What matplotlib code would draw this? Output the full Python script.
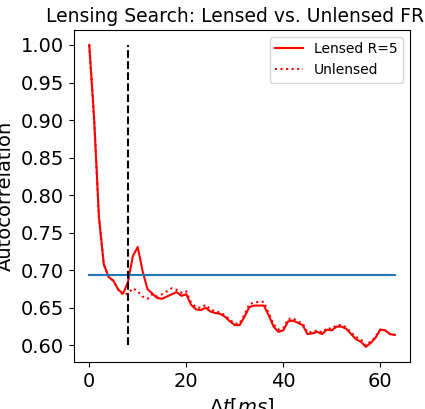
import numpy as np
import matplotlib.pyplot as plt

lensed = [1.000, 0.903, 0.771, 0.708, 0.691, 0.686, 0.674, 0.669, 0.685, 0.719,
          0.731, 0.699, 0.675, 0.669, 0.663, 0.662, 0.665, 0.668, 0.671, 0.666,
          0.668, 0.654, 0.648, 0.647, 0.650, 0.645, 0.643, 0.642, 0.638, 0.632,
          0.627, 0.627, 0.638, 0.651, 0.653, 0.653, 0.653, 0.640, 0.625, 0.618,
          0.620, 0.632, 0.633, 0.630, 0.627, 0.615, 0.616, 0.618, 0.615, 0.621,
          0.620, 0.625, 0.625, 0.622, 0.615, 0.608, 0.605, 0.598, 0.603, 0.610,
          0.621, 0.620, 0.615, 0.614]
unlensed = [1.000, 0.903, 0.771, 0.708, 0.691, 0.686, 0.674, 0.667, 0.669, 0.676,
            0.672, 0.665, 0.662, 0.668, 0.665, 0.668, 0.672, 0.676, 0.674, 0.670,
            0.672, 0.657, 0.651, 0.650, 0.654, 0.648, 0.645, 0.644, 0.640, 0.634,
            0.629, 0.629, 0.641, 0.655, 0.657, 0.658, 0.658, 0.643, 0.628, 0.621,
            0.623, 0.635, 0.636, 0.632, 0.629, 0.617, 0.618, 0.620, 0.617, 0.623,
            0.622, 0.627, 0.627, 0.624, 0.617, 0.611, 0.608, 0.600, 0.605, 0.611,
            0.621, 0.620, 0.615, 0.614]
threshold = 0.694
lens_delay = 8

t = np.arange(len(lensed))

fig, ax = plt.subplots(figsize=(4.25, 4.09), dpi=100)
ax.plot(t, lensed, 'r-', label='Lensed R=5')
ax.plot(t, unlensed, 'r:', label='Unlensed')
ax.plot([t[0], t[-1]], [threshold, threshold], color='tab:blue')
ax.vlines(lens_delay, 0.6, 1.0, colors='k', linestyles='--')
ax.set_xlabel(r'$\Delta t [ms]$', fontsize=14)
ax.set_ylabel('Autocorrelation', fontsize=14)
ax.set_title('Lensing Search: Lensed vs. Unlensed FRB', fontsize=13.5)
ax.set_yticks(np.arange(0.60, 1.001, 0.05))
ax.tick_params(labelsize=14)
ax.legend(fontsize=10)
fig.subplots_adjust(left=0.174, right=0.965, top=0.927, bottom=0.115)
fig.savefig('out.png')
